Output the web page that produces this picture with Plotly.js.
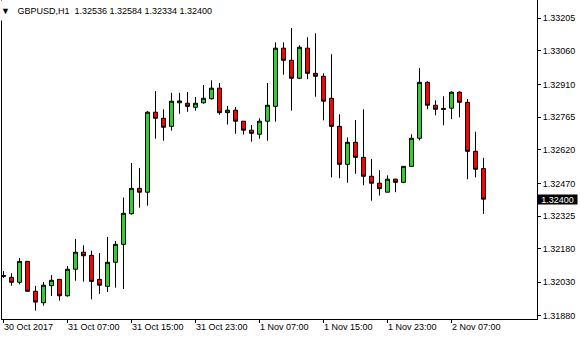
<!DOCTYPE html>
<html><head><meta charset="utf-8">
<script src="https://cdn.plot.ly/plotly-3.0.1.min.js"></script>
<style>html,body{margin:0;padding:0;background:#fff}#chart{width:580px;height:340px}</style>
</head><body><div id="chart"></div><script>
const symbol = 'GBPUSD';
const period = 'H1';

const open = [1.32056,1.32052,1.32030,1.32123,1.31990,1.31939,1.32015,1.32043,1.31970,1.32088,
1.32164,1.32150,1.32043,1.32012,1.32119,1.32199,1.32335,1.32448,1.32431,1.32787,
1.32760,1.32724,1.32829,1.32827,1.32809,1.32829,1.32847,1.32894,1.32785,1.32796,
1.32747,1.32707,1.32689,1.32747,1.32813,1.33072,1.33018,1.32938,1.33072,1.32960,
1.32947,1.32849,1.32724,1.32555,1.32653,1.32586,1.32502,1.32471,1.32431,1.32489,
1.32475,1.32546,1.32671,1.32920,1.32818,1.32804,1.32805,1.32876,1.32831,1.32613,
1.32536];
const high = [1.32080,1.32070,1.32138,1.32125,1.32014,1.32031,1.32062,1.32045,1.32103,1.32223,
1.32195,1.32171,1.32160,1.32232,1.32214,1.32407,1.32561,1.32539,1.32792,1.32881,
1.32800,1.32873,1.32873,1.32877,1.32855,1.32908,1.32929,1.32917,1.32815,1.32810,
1.32747,1.32730,1.32760,1.32917,1.33098,1.33098,1.33162,1.33085,1.33121,1.33138,
1.32960,1.33045,1.32778,1.32675,1.32752,1.32800,1.32579,1.32529,1.32506,1.32491,
1.32546,1.32689,1.32983,1.32925,1.32840,1.32858,1.32880,1.32880,1.32845,1.32700,
1.32584];
const low = [1.32049,1.32015,1.32021,1.31989,1.31904,1.31926,1.31969,1.31948,1.31966,1.32037,
1.32033,1.31954,1.31978,1.31987,1.32006,1.32000,1.32331,1.32362,1.32371,1.32669,
1.32660,1.32705,1.32780,1.32789,1.32794,1.32825,1.32843,1.32776,1.32732,1.32691,
1.32688,1.32656,1.32669,1.32660,1.32745,1.32954,1.32794,1.32934,1.32934,1.32856,
1.32751,1.32497,1.32493,1.32473,1.32513,1.32462,1.32393,1.32416,1.32431,1.32431,
1.32471,1.32546,1.32662,1.32800,1.32773,1.32729,1.32756,1.32764,1.32489,1.32497,
1.32334];
const close = [1.32060,1.32030,1.32123,1.31990,1.31942,1.32017,1.32039,1.31970,1.32088,1.32164,
1.32148,1.32034,1.32017,1.32119,1.32199,1.32337,1.32448,1.32431,1.32787,1.32760,
1.32720,1.32836,1.32837,1.32813,1.32827,1.32849,1.32894,1.32785,1.32796,1.32747,
1.32707,1.32693,1.32747,1.32818,1.33072,1.33018,1.32938,1.33076,1.32960,1.32947,
1.32836,1.32724,1.32555,1.32653,1.32586,1.32502,1.32471,1.32447,1.32489,1.32475,
1.32546,1.32671,1.32920,1.32818,1.32800,1.32800,1.32876,1.32831,1.32613,1.32533,
1.32400];

const xTickBars = [0, 8, 16, 24, 32, 40, 48, 56];
const xTickLabels = ['30 Oct 2017','31 Oct 07:00','31 Oct 15:00','31 Oct 23:00','1 Nov 07:00','1 Nov 15:00','1 Nov 23:00','2 Nov 07:00'];
const yTickVals = [1.31880,1.32030,1.32180,1.32325,1.32470,1.32620,1.32765,1.32910,1.33060,1.33205];

const bars = open.map((_, i) => i);
const last = open.length - 1;

const FONT = 'Liberation Sans, Arial, sans-serif';

const trace = {
  type: 'candlestick',
  x: bars, open: open, high: high, low: low, close: close,
  increasing: {line: {color: '#000', width: 1}, fillcolor: '#32CD32'},
  decreasing: {line: {color: '#000', width: 1}, fillcolor: '#FF0000'},
  whiskerwidth: 0,
  hoverinfo: 'skip'
};

const annotations = xTickBars.map((b, i) => ({
  x: b, xref: 'x', y: 0, yref: 'paper', xanchor: 'left', yanchor: 'top',
  yshift: -2, xshift: -1, text: xTickLabels[i], showarrow: false, borderpad: 0,
  font: {family: FONT, size: 9, color: '#000'}
}));

annotations.push({
  xref: 'paper', x: 1, yref: 'y', y: close[last], xanchor: 'left', yanchor: 'middle',
  text: close[last].toFixed(5), showarrow: false, bgcolor: '#000', borderpad: 0,
  width: 39, height: 9, xshift: 0,
  font: {family: FONT, size: 9, color: '#fff'}
});

annotations.push({
  xref: 'paper', x: 0, yref: 'paper', y: 1, xanchor: 'left', yanchor: 'top', xshift: -2,
  text: '\u25BC\u00a0\u00a0\u00a0' + symbol + ',' + period + '\u00a0\u00a0' + [open[last], high[last], low[last], close[last]].map(v => v.toFixed(5)).join(' '),
  showarrow: false, bgcolor: '#fff', borderpad: 0, height: 19, align: 'left', valign: 'middle',
  font: {family: FONT, size: 9, color: '#000'}
});

const layout = {
  width: 580, height: 340,
  margin: {l: 2, r: 43, t: 0, b: 21, pad: 0},
  paper_bgcolor: '#fff', plot_bgcolor: '#fff',
  showlegend: false,
  boxgap: 0.5,
  boxgroupgap: 0,
  font: {family: FONT, size: 9, color: '#000'},
  xaxis: {
    range: [-0.1875, 66.6875], showgrid: false, zeroline: false,
    showline: true, linecolor: '#000', linewidth: 1,
    ticks: 'outside', ticklen: 3, tickcolor: '#000', tickwidth: 1,
    tickvals: xTickBars, showticklabels: false,
    rangeslider: {visible: false}, fixedrange: true
  },
  yaxis: {
    range: [1.318666, 1.332864], side: 'right', showgrid: false, zeroline: false,
    showline: true, mirror: true, linecolor: '#000', linewidth: 1,
    ticks: 'outside', ticklen: 3, tickcolor: '#000', tickwidth: 1,
    tickvals: yTickVals, ticktext: yTickVals.map(v => v.toFixed(5)),
    tickfont: {family: FONT, size: 9, color: '#000'}, fixedrange: true
  },
  annotations: annotations
};

Plotly.newPlot('chart', [trace], layout, {staticPlot: true, displayModeBar: false});
</script></body></html>
